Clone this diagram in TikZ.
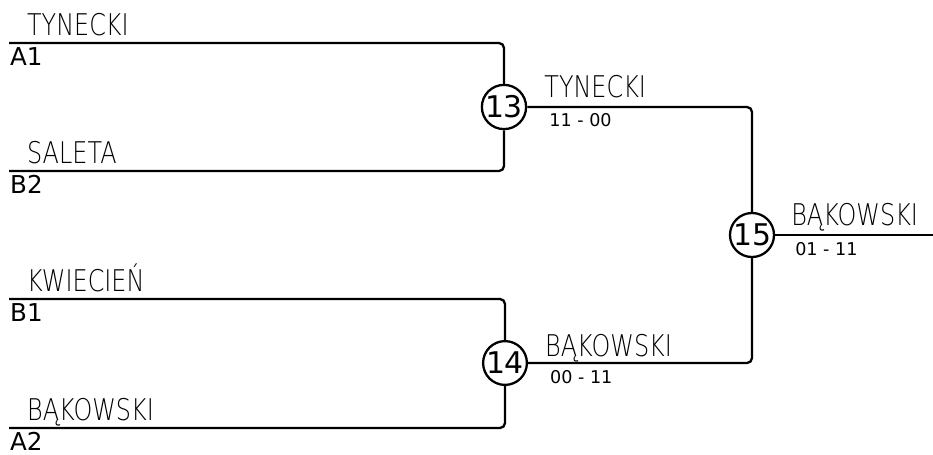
\documentclass[tikz,border=0pt]{standalone}
\usepackage{fontspec}
\setmainfont{DejaVu Sans}
\newfontfamily\namefont[FakeStretch=0.8]{DejaVu Sans ExtraLight}

\begin{document}
\begin{tikzpicture}
  [x=0.02cm, y=-0.02cm, line width=1.3pt,
   every node/.style={inner sep=0pt},
   match/.style={draw, circle, minimum size=0.82cm, font=\fontsize{17}{18}\selectfont},
   player/.style={anchor=base west, font=\namefont\fontsize{17}{19}\selectfont},
   seed/.style={anchor=base west, font=\fontsize{14}{16}\selectfont},
   score/.style={anchor=base west, font=\fontsize{10}{12}\selectfont},
   bracket/.style={rounded corners=0.1cm}]
  \useasboundingbox (0,0) rectangle (933,454);
  % first round
  \coordinate (a1) at (9,43);
  \coordinate (b2) at (9,171);
  \coordinate (b1) at (9,299);
  \coordinate (a2) at (9,428);
  \node[match] (m13) at (504,107) {13};
  \node[match] (m14) at (505,363) {14};
  \node[match] (m15) at (752,235) {15};
  \coordinate (out) at (933,235);

  \node[player] (p-a1) at ([shift={(17,-8)}]a1) {TYNECKI};
  \node[seed] (s-a1) at ([shift={(0,22)}]a1) {A1};
  \node[player] (p-b2) at ([shift={(17,-8)}]b2) {SALETA};
  \node[seed] (s-b2) at ([shift={(0,22)}]b2) {B2};
  \node[player] (p-b1) at ([shift={(17,-8)}]b1) {KWIECIEŃ};
  \node[seed] (s-b1) at ([shift={(0,22)}]b1) {B1};
  \node[player] (p-a2) at ([shift={(17,-8)}]a2) {BĄKOWSKI};
  \node[seed] (s-a2) at ([shift={(0,22)}]a2) {A2};

  % winners
  \node[player] (w13) at ([shift={(16,-10)}]m13.east) {TYNECKI};
  \node[score] (r13) at ([shift={(21,19)}]m13.east) {11 - 00};
  \node[player] (w14) at ([shift={(16,-7)}]m14.east) {BĄKOWSKI};
  \node[score] (r14) at ([shift={(21,20)}]m14.east) {00 - 11};
  \node[player] (w15) at ([shift={(15,-10)}]m15.east) {BĄKOWSKI};
  \node[score] (r15) at ([shift={(19,20)}]m15.east) {01 - 11};

  \draw[bracket] (a1) -| (m13.north);
  \draw[bracket] (b2) -| (m13.south);
  \draw[bracket] (b1) -| (m14.north);
  \draw[bracket] (a2) -| (m14.south);
  \draw[bracket] (m13.east) -| (m15.north);
  \draw[bracket] (m14.east) -| (m15.south);
  \draw (m15.east) -- (out);
\end{tikzpicture}
\end{document}
